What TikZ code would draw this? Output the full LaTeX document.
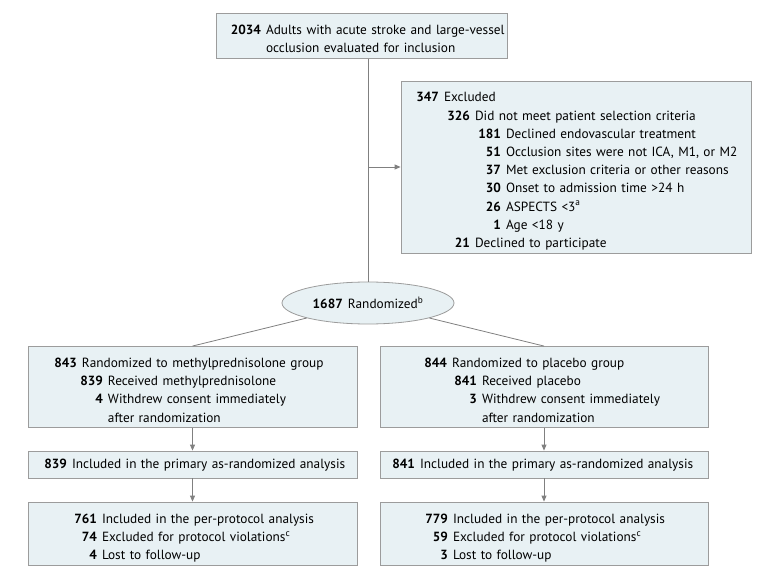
\documentclass[tikz,border=0pt]{standalone}
\usepackage{fontspec}
\setmainfont{PT Sans}
\usetikzlibrary{arrows.meta,shapes.geometric}

\definecolor{boxfill}{HTML}{E8F1F4}
\definecolor{boxline}{HTML}{9C9C9C}
\definecolor{flowline}{HTML}{808080}

% 一行:加粗的人数右对齐到 #1,后接说明
\newcommand{\fcrow}[3]{\makebox[#1][r]{\bfseries #2}\nobreak\hspace{5pt}\begin{tabular}[t]{@{}l@{}}#3\end{tabular}}

\begin{document}
\begin{tikzpicture}[x=1pt,y=-1pt,
                    font=\fontsize{13.3}{18.2}\selectfont,
                    box/.style={draw=boxline,fill=boxfill,line width=0.8pt,inner sep=0pt,align=left},
                    lower/.style={execute at begin node={\rule{0pt}{21pt}}},
                    flow/.style={draw=flowline,line width=0.8pt},
                    arr/.style={flow,-{Triangle[length=6pt,width=5pt]}}]

  \useasboundingbox (0,0) rectangle (780,578);

  % 筛查与排除
  \node[box,lower,text width=291pt,minimum height=44pt] (screen) at (361.5,36)
    {\fcrow{45pt}{2034}{Adults with acute stroke and large-vessel\\occlusion evaluated for inclusion}};
  \node[box,lower,text width=350pt,minimum height=172pt] (excl) at (576,167)
    {\fcrow{38pt}{347}{Excluded}\\
     \fcrow{69pt}{326}{Did not meet patient selection criteria}\\
     \fcrow{100pt}{181}{Declined endovascular treatment}\\
     \fcrow{100pt}{51}{Occlusion sites were not ICA, M1, or M2}\\
     \fcrow{100pt}{37}{Met exclusion criteria or other reasons}\\
     \fcrow{100pt}{30}{Onset to admission time >24 h}\\
     \fcrow{100pt}{26}{ASPECTS <3\textsuperscript{a}}\\
     \fcrow{100pt}{1}{Age <18 y}\\
     \fcrow{69pt}{21}{Declined to participate}};

  % 随机化
  \node[ellipse,draw=boxline,fill=boxfill,line width=0.8pt,inner sep=0pt,
        minimum width=172pt,minimum height=42pt] (rand) at (368,303)
    {\textbf{1687}\hspace{5pt}Randomized\textsuperscript{b}};

  \draw[flow] (screen.south -| rand.north) -- (rand.north);
  \coordinate (split) at (rand.north |- excl.west);
  \draw[arr] (split) -- (excl.west);

  % 甲泼尼龙组
  \node[box,lower,text width=329pt,minimum height=80pt] (mp) at (192.5,387)
    {\fcrow{49pt}{843}{Randomized to methylprednisolone group}\\
     \fcrow{75pt}{839}{Received methylprednisolone}\\
     \fcrow{75pt}{4}{Withdrew consent immediately\\after randomization}};
  \node[box,text width=329pt,minimum height=27pt] (mpitt) at (192.5,464.5)
    {\fcrow{39pt}{839}{Included in the primary as-randomized analysis}};
  \node[box,lower,text width=329pt,minimum height=63pt] (mppp) at (192.5,533.5)
    {\fcrow{69pt}{761}{Included in the per-protocol analysis}\\
     \fcrow{69pt}{74}{Excluded for protocol violations\textsuperscript{c}}\\
     \fcrow{69pt}{4}{Lost to follow-up}};

  % 安慰剂组
  \node[box,lower,text width=328pt,minimum height=80pt] (pb) at (544,387)
    {\fcrow{67pt}{844}{Randomized to placebo group}\\
     \fcrow{97pt}{841}{Received placebo}\\
     \fcrow{97pt}{3}{Withdrew consent immediately\\after randomization}};
  \node[box,text width=328pt,minimum height=27pt] (pbitt) at (544,464.5)
    {\fcrow{35pt}{841}{Included in the primary as-randomized analysis}};
  \node[box,lower,text width=328pt,minimum height=63pt] (pbpp) at (544,533.5)
    {\fcrow{68pt}{779}{Included in the per-protocol analysis}\\
     \fcrow{68pt}{59}{Excluded for protocol violations\textsuperscript{c}}\\
     \fcrow{68pt}{3}{Lost to follow-up}};

  % 连线
  \draw[flow] (rand) -- (mp.north);
  \draw[flow] (rand) -- (pb.north);
  \draw[arr] (mp.south) -- (mpitt.north);
  \draw[arr] (mpitt.south) -- (mppp.north);
  \draw[arr] (pb.south) -- (pbitt.north);
  \draw[arr] (pbitt.south) -- (pbpp.north);
\end{tikzpicture}
\end{document}
